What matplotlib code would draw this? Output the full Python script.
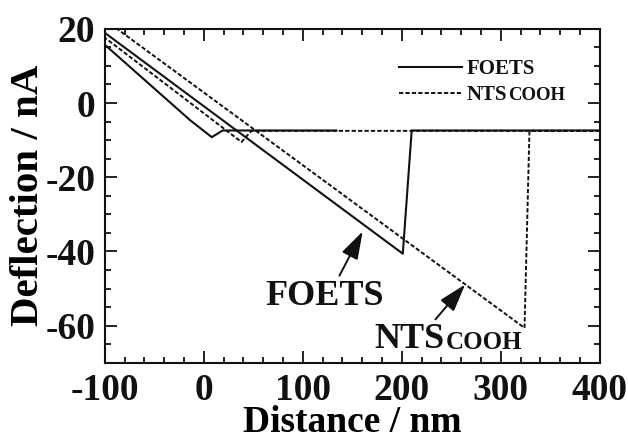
"""
Force-distance curves (approach and retract) for FOETS and NTS-COOH tips.
"""

import matplotlib
matplotlib.use('Agg')
import matplotlib.pyplot as plt
from matplotlib.ticker import MultipleLocator

C_INK = '#111111'

plt.rcParams.update({
    'font.family':        'serif',
    'font.serif':         ['Liberation Serif', 'DejaVu Serif'],
    'font.weight':        'bold',
    'axes.labelweight':   'bold',
    'axes.unicode_minus': False,
    'text.color':         C_INK,
    'axes.edgecolor':     C_INK,
    'xtick.color':        C_INK,
    'ytick.color':        C_INK,
})

# ── Data: distance (nm) vs cantilever deflection (nA) ─────────────────────
# FOETS: approach with snap-in near contact, retract with pull-off at ~200 nm
foets_app_x = [134, 19, 8, -14, -100]
foets_app_y = [-7.4, -7.4, -9.2, -4.6, 15.7]
foets_ret_x = [400, 210, 201, -100]
foets_ret_y = [-7.4, -7.4, -40.6, 18.9]

# NTS-COOH: approach with snap-in, retract with pull-off at ~325 nm
nts_app_x = [400, 48, 38, -100]
nts_app_y = [-7.5, -7.5, -10.5, 17.6]
nts_ret_x = [400, 329, 324, -100]
nts_ret_y = [-7.5, -7.5, -60.6, 22.4]

dash = (0, (2.2, 1.1))

fig = plt.figure(figsize=(6.28, 4.43), dpi=100)
ax = fig.add_axes([0.167, 0.181, 0.788, 0.754])

ax.plot(foets_app_x, foets_app_y, color=C_INK, lw=1.5, label='FOETS')
ax.plot(foets_ret_x, foets_ret_y, color=C_INK, lw=1.5)
ax.plot(nts_app_x, nts_app_y, color=C_INK, lw=1.4, ls=dash, label='NTS')
ax.plot(nts_ret_x, nts_ret_y, color=C_INK, lw=1.4, ls=dash)

ax.set_xlim(-100, 400)
ax.set_ylim(-70, 20)
ax.xaxis.set_major_locator(MultipleLocator(100))
ax.xaxis.set_minor_locator(MultipleLocator(20))
ax.yaxis.set_major_locator(MultipleLocator(20))
ax.yaxis.set_minor_locator(MultipleLocator(5))
ax.tick_params(which='both', direction='in', top=True, right=True, width=1.3)
ax.tick_params(which='major', length=8.5, labelsize=27, pad=7)
ax.tick_params(which='minor', length=4.3)
for lab in ax.get_xticklabels() + ax.get_yticklabels():
    lab.set_fontweight('bold')
for sp in ax.spines.values():
    sp.set_linewidth(1.5)

ax.set_xlabel('Distance / nm', fontsize=27, labelpad=-1.5)
ax.set_ylabel('Deflection / nA', fontsize=29.5, labelpad=-1)

# ── Curve labels with arrows ──────────────────────────────────────────────
arrow_kw = dict(arrowstyle='-|>,head_length=0.95,head_width=0.3',
                mutation_scale=18, lw=1.4, color=C_INK, shrinkA=0, shrinkB=0)

ax.text(122, -52.2, 'FOETS', fontsize=26, fontweight='bold', ha='center', va='center')
ax.annotate('', xy=(160.5, -34.6), xytext=(137, -46.5), arrowprops=arrow_kw)

t_nts = ax.text(172.5, -63.8, 'NTS', fontsize=26, fontweight='bold', ha='left', va='center')
ax.annotate('COOH', xy=(1, 0), xycoords=t_nts, xytext=(0.5, 1.8),
            textcoords='offset points', fontsize=18, fontweight='bold',
            ha='left', va='bottom')
ax.annotate('', xy=(264, -48.9), xytext=(234, -58.3), arrowprops=arrow_kw)

# ── Legend ────────────────────────────────────────────────────────────────
leg = ax.legend(loc='upper left', bbox_to_anchor=(0.595, 0.91), frameon=False,
                prop={'family': 'serif', 'weight': 'bold', 'size': 15},
                handlelength=3.0, handletextpad=0.25, labelspacing=0.3,
                borderpad=0, borderaxespad=0)
nts_leg = leg.get_texts()[1]
ax.annotate('COOH', xy=(1, 0), xycoords=nts_leg, xytext=(0.3, 1.0),
            textcoords='offset points', fontsize=13.5, fontweight='bold',
            ha='left', va='bottom', zorder=6)

fig.savefig('out.png', dpi=100)
